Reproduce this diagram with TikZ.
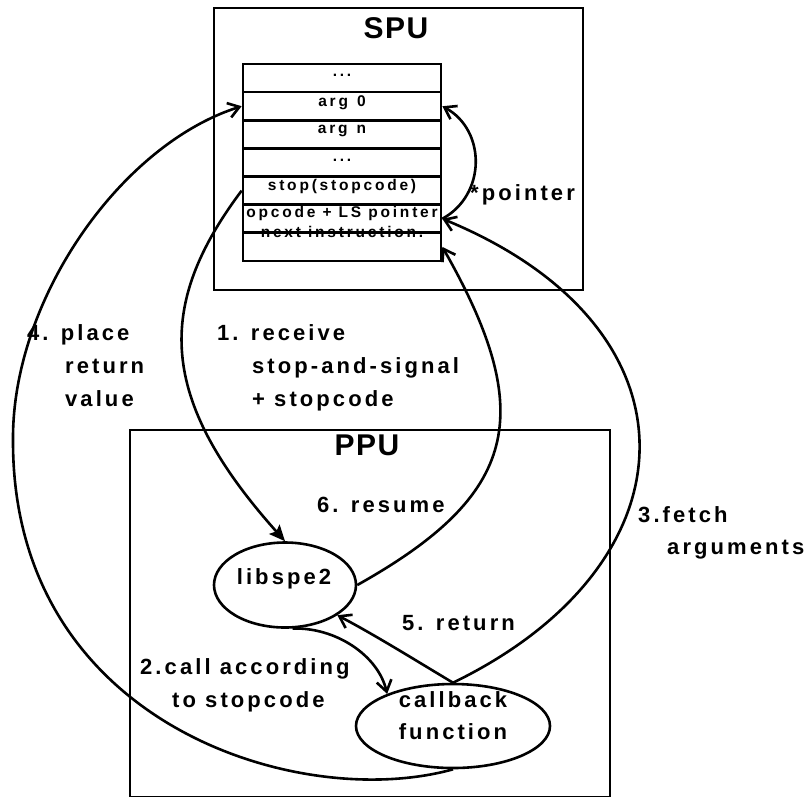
\documentclass[tikz,border=0pt]{standalone}
\usepackage{fontspec}
\setmainfont{Liberation Sans}
\newfontfamily\lblfont{Liberation Sans}[LetterSpace=14]
\newfontfamily\rowfont{Liberation Sans}[LetterSpace=18]
\newfontfamily\ttlfont{Liberation Sans}[LetterSpace=5]
\usetikzlibrary{arrows.meta,shapes.geometric}
\begin{document}
\begin{tikzpicture}[x=1pt,y=-1pt,
  ln/.style={line width=2.6pt},
  frame/.style={draw,line width=2.7pt},
  rowbox/.style={draw,line width=2.7pt,minimum width=198pt,minimum height=28.14pt,inner sep=0pt},
  rowtxt/.style={font=\rowfont\bfseries\fontsize{15.5}{18}\selectfont,anchor=base,inner sep=0pt},
  lbl/.style={font=\lblfont\bfseries\fontsize{22}{26}\selectfont,anchor=base west,inner sep=0pt},
  ctrtxt/.style={font=\lblfont\bfseries\fontsize{22}{26}\selectfont,anchor=base,inner sep=0pt},
  ttl/.style={font=\ttlfont\bfseries\fontsize{30}{34}\selectfont,anchor=base,inner sep=0pt},
  oval/.style={draw,ellipse,line width=2.6pt,inner sep=0pt},
  opentip/.style={-{Straight Barb[length=11pt,width=15pt]}},
  filltip/.style={-{Stealth[length=16pt,width=14pt,inset=3pt]}}
]
\fill[white] (0,0) rectangle (810,796);
\clip (0,0) rectangle (810,796);

% processor boxes
\draw[frame] (214,8) rectangle (583,290);
\draw[frame] (130,430) rectangle (610,797);
\node[ttl] (spu) at (396,38) {SPU};
\node[ttl] (ppu) at (367,455) {PPU};

% local store rows
\node[rowbox] (r1) at (342,78.07) {};
\node[rowbox] (r2) at (342,106.21) {};
\node[rowbox] (r3) at (342,134.35) {};
\node[rowbox] (r4) at (342,162.49) {};
\node[rowbox] (r5) at (342,190.63) {};
\node[rowbox] (r6) at (342,218.77) {};
\node[rowbox] (r7) at (342,246.91) {};
\node[rowtxt] (t1) at (342,76) {...};
\node[rowtxt] (t2) at (342,106) {arg\hspace{2pt} 0};
\node[rowtxt] (t3) at (342,133) {arg\hspace{2pt} n};
\node[rowtxt] (t4) at (342,161) {...};
\node[rowtxt] (t5) at (342,190) {stop(stopcode)};
\node[rowtxt] (t6) at (342,217) {opcode + LS pointer};
\node[rowtxt] (t7) at (342,237) {next instruction.};

% PPU side components
\node[oval,minimum width=142pt,minimum height=85pt] (lib) at (285,585) {};
\node[ctrtxt] (libtxt) at (284,584) {libspe2};
\node[oval,minimum width=194pt,minimum height=84pt] (cb) at (453,726) {};
\node[ctrtxt] (cbtxt1) at (453,707) {callback};
\node[ctrtxt] (cbtxt2) at (453,739) {function};

% step labels
\node[lbl] (l4a) at (27,340) {4. place};
\node[lbl] (l4b) at (65,373) {return};
\node[lbl] (l4c) at (65,406) {value};
\node[lbl] (l1a) at (217,340) {1. receive};
\node[lbl] (l1b) at (252,373) {stop-and-signal};
\node[lbl] (l1c) at (252,406) {+ stopcode};
\node[lbl] (l6) at (317,512) {6. resume};
\node[lbl] (l3a) at (638,522) {3.fetch};
\node[lbl] (l3b) at (667,554) {arguments};
\node[lbl] (l5) at (402,630) {5. return};
\node[lbl] (l2a) at (140,674) {2.call according};
\node[lbl] (l2b) at (172,707) {to stopcode};
\node[lbl] (lp) at (470,200) {*pointer};

% connectors
\coordinate (leftmost) at (13,440);
\draw[ln,filltip] (r5.west) .. controls (155,306) and (158,399) .. (lib.north);
\draw[ln,opentip] (lib.-80) .. controls (335,627) and (378,655) .. (cb.154);
\draw[ln,opentip] (cb.north) .. controls (698,564) and (708,328) .. (r6.east);
\draw[ln,opentip] (r6.east) .. controls +(44,-24) and +(44,24) .. (r2.east);
\draw[ln,opentip] (cb.south) .. controls (300,812) and (12,725) .. (leftmost)
                  .. controls (12,300) and (120,145) .. (r2.west);
\draw[ln,opentip] (cb.north) .. controls (415,660) and (375,635) .. (lib.-30);
\draw[ln,opentip] (lib.east) .. controls (518,495) and (538,415) .. (r7.east);
\end{tikzpicture}
\end{document}
